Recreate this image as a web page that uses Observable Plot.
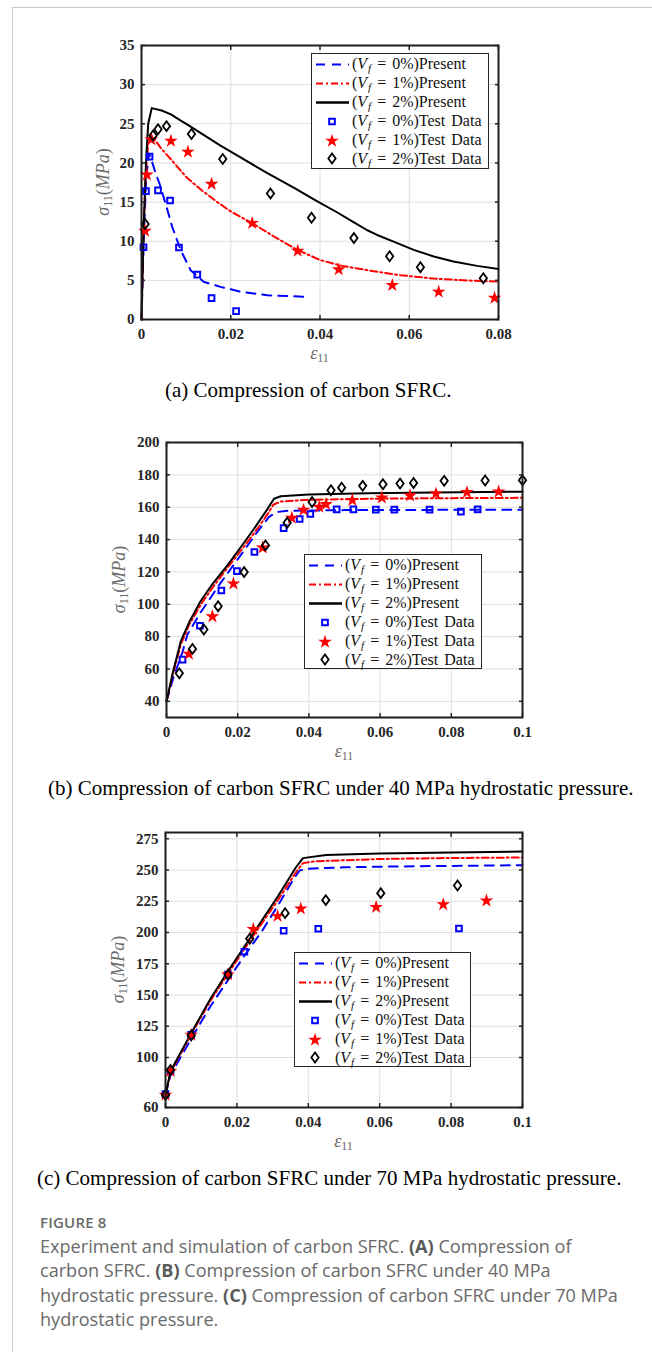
<!DOCTYPE html>
<html>
<head>
<meta charset="utf-8">
<script src="https://cdn.jsdelivr.net/npm/d3@7"></script>
<script src="https://cdn.jsdelivr.net/npm/@observablehq/plot@0.6"></script>
<style>
  body { margin: 0; background: #fff; }
  #page { position: relative; width: 652px; height: 1352px; overflow: hidden; background: #fff; }
  #frame { position: absolute; left: 12px; top: 7px; right: -4px; bottom: -4px;
           border-left: 1px solid #c9c9c9; border-top: 1px solid #c9c9c9; }
  .panel { position: absolute; left: 0; }
  .legend { position: absolute; box-sizing: border-box; background: #fff; border: 1.5px solid #262626;
            font-family: "Liberation Serif", "Times New Roman", serif; font-size: 16px; color: #111;
            padding-top: 1px; word-spacing: 2px; }
  .legend .row { display: flex; align-items: center; height: 18.9px; white-space: nowrap; }
  .legend .row svg { flex: none; }
  .legend i { font-style: italic; }
  .legend sub { font-size: 11px; font-style: italic; vertical-align: -3px; line-height: 0; margin-left: 1px; }
  .sub { position: absolute; font-family: "Liberation Serif", "Times New Roman", serif; font-size: 21px;
         line-height: 24px; white-space: nowrap; color: #000; }
  .caption { position: absolute; left: 40px; top: 1210px; width: 610px;
             font-family: "Open Sans", sans-serif; color: #6a6a6a; }
  .caption .fig { font-size: 15px; line-height: 24px; font-weight: 600; letter-spacing: 0.2px; }
  .caption .body { font-size: 18.1px; line-height: 24.4px; white-space: nowrap; }
  .caption b { font-weight: 700; color: #5a5a5a; }
</style>
</head>
<body>
<div id="page">
  <div id="frame"></div>
</div>
<script>
// ---------- Panel (a): compression, no confinement ----------
const aStrainTicks = [0, 0.02, 0.04, 0.06, 0.08];
const aStressTicks = [0, 5, 10, 15, 20, 25, 30, 35];
const aPresent0 = [[0,0],[0.0005,10],[0.001,17.5],[0.0016,21.2],[0.0021,20.6],[0.003,19],[0.004,17.4],[0.0054,14.8],[0.0069,11.8],[0.0088,8.85],[0.011,6.3],[0.014,4.8],[0.0177,4.17],[0.0222,3.55],[0.0282,3.1],[0.0371,2.9]];
const aPresent1 = [[0,0],[0.0005,12],[0.001,19],[0.0015,22.5],[0.0021,23.6],[0.0045,21.8],[0.007,20.2],[0.01,18.2],[0.0133,16.6],[0.0165,15.2],[0.02,13.8],[0.0248,12.3],[0.0297,10.6],[0.0349,8.9],[0.04,7.6],[0.045,6.85],[0.0506,6.3],[0.058,5.66],[0.0655,5.23],[0.0729,4.98],[0.08,4.85]];
const aPresent2 = [[0,0],[0.0005,12],[0.001,20],[0.0015,25],[0.0023,27.0],[0.0045,26.7],[0.0066,26.2],[0.0088,25.4],[0.0103,24.9],[0.0133,23.8],[0.0177,22.2],[0.0222,20.7],[0.0282,18.7],[0.0342,16.8],[0.0394,15.1],[0.0438,13.7],[0.0476,12.4],[0.0506,11.4],[0.0528,10.8],[0.0565,9.95],[0.061,8.9],[0.0655,8.05],[0.0699,7.4],[0.0752,6.85],[0.08,6.45]];
const aTest0 = [[0.00045,9.23],[0.001,16.4],[0.0018,20.8],[0.0037,16.5],[0.0064,15.2],[0.0084,9.2],[0.0125,5.74],[0.0157,2.72],[0.0212,1.06]];
const aTest1 = [[0.0008,11.3],[0.0012,18.5],[0.0022,23.0],[0.0066,22.8],[0.0104,21.4],[0.0157,17.3],[0.0248,12.3],[0.035,8.76],[0.0442,6.38],[0.0562,4.38],[0.0666,3.53],[0.0791,2.76]];
const aTest2 = [[0.0008,12.2],[0.0026,23.5],[0.0037,24.3],[0.0056,24.7],[0.0112,23.7],[0.0182,20.5],[0.0289,16.1],[0.0381,13.0],[0.0476,10.4],[0.0556,8.08],[0.0625,6.68],[0.0766,5.27]];

// ---------- Panel (b): 40 MPa hydrostatic pressure ----------
const bStrainTicks = [0, 0.02, 0.04, 0.06, 0.08, 0.1];
const bStressTicks = [40, 60, 80, 100, 120, 140, 160, 180, 200];
const bPresent0 = [[0,40],[0.002,55],[0.0045,70.5],[0.0059,81.5],[0.0096,95],[0.0153,113.5],[0.0209,130.5],[0.0256,145],[0.0288,154],[0.031,157],[0.034,157.8],[0.05,158.2],[0.1,158.5]];
const bPresent1 = [[0,40],[0.0017,56],[0.004,75],[0.0064,87.5],[0.01,101],[0.013,110.5],[0.0171,122.5],[0.021,133.5],[0.025,145],[0.0285,156],[0.03,161.5],[0.032,163.5],[0.04,164.6],[0.06,165.3],[0.08,165.6],[0.1,165.8]];
const bPresent2 = [[0,40],[0.0017,57],[0.004,77],[0.0064,89],[0.0096,102],[0.0129,112.5],[0.0171,124],[0.0209,135.4],[0.0246,146.7],[0.0284,159],[0.0302,165.2],[0.0321,166.8],[0.04,167.8],[0.0565,168.7],[0.0752,169.1],[0.1,169.6]];
const bTest0 = [[0.0045,65.8],[0.0094,86.7],[0.0154,108.5],[0.0198,120.5],[0.0247,132.3],[0.0329,147.1],[0.0374,152.7],[0.0404,155.8],[0.0478,158.7],[0.0525,158.7],[0.0588,158.5],[0.064,158.5],[0.0739,158.5],[0.0827,157.3],[0.0874,158.7]];
const bTest1 = [[0.0063,69.3],[0.0129,92.4],[0.0188,112.7],[0.027,135.0],[0.0352,153.3],[0.0385,158.3],[0.0429,160.1],[0.0448,161.8],[0.0522,164.3],[0.0605,165.9],[0.0684,167.2],[0.0757,168.4],[0.0844,169.2],[0.0933,169.6]];
const bTest2 = [[0.0036,57.3],[0.0073,72.4],[0.0105,84.4],[0.0145,98.8],[0.0218,119.9],[0.0278,136.4],[0.0339,150.4],[0.0409,163.2],[0.0462,170.5],[0.0492,172.1],[0.0551,173.2],[0.0608,174.2],[0.0656,174.6],[0.0694,175.0],[0.078,176.3],[0.0895,176.5],[0.1,176.7]];

// ---------- Panel (c): 70 MPa hydrostatic pressure ----------
const cStrainTicks = [0, 0.02, 0.04, 0.06, 0.08, 0.1];
const cStressTicks = [60, 100, 125, 150, 175, 200, 225, 250, 275];
const cPresent0 = [[0,70],[0.0014,86],[0.007,114],[0.0126,141],[0.0175,162],[0.022,181],[0.027,201],[0.032,224],[0.0355,241],[0.0375,249.5],[0.04,251],[0.05,252.2],[0.07,253],[0.1,253.8]];
const cPresent1 = [[0,70],[0.0014,88],[0.007,117.5],[0.0126,145.5],[0.0175,167],[0.0245,197],[0.0315,226],[0.0365,248],[0.0385,255.5],[0.042,257],[0.06,258.8],[0.08,259.6],[0.1,260]];
const cPresent2 = [[0,70],[0.0014,89],[0.007,118.5],[0.0126,147],[0.0175,169],[0.0245,199],[0.0315,229],[0.0365,252],[0.0385,259.5],[0.045,262],[0.06,263.2],[0.08,264],[0.1,264.8]];
const cTest0 = [[0,70.7],[0.0014,88.8],[0.0072,118.1],[0.0175,166.4],[0.0221,184.6],[0.0331,201.4],[0.0428,203.0],[0.0822,203.2]];
const cTest1 = [[0,70.1],[0.0014,89.1],[0.0072,118.1],[0.0175,166.4],[0.0246,202.7],[0.0314,213.1],[0.0379,219],[0.059,220.3],[0.0778,222.4],[0.0899,225.4]];
const cTest2 = [[0,70.1],[0.0014,90.1],[0.0072,117.6],[0.0175,166.2],[0.0236,195],[0.0335,215.5],[0.0449,225.9],[0.0603,231.5],[0.0818,237.6]];

const seriesNames = ["0%", "1%", "2%"];
const subcaptions = [
  "(a) Compression of carbon SFRC.",
  "(b) Compression of carbon SFRC under 40 MPa hydrostatic pressure.",
  "(c) Compression of carbon SFRC under 70 MPa hydrostatic pressure."
];

const BLUE = "#0000ff", RED = "#ff0000", BLACK = "#000000";
const DASH0 = "9,7", DASH1 = "7,3,2,3";
const SERIF = '"Liberation Serif", "Times New Roman", serif';
const R_SQUARE = 3.2, R_STAR = 4.3, R_DIAMOND = 3.3;

// rhombus marker, a little taller than wide
const rhombus = {
  draw(context, size) {
    const h = Math.sqrt(size / Math.PI) * 1.5, w = h * 0.74;
    context.moveTo(0, -h);
    context.lineTo(w, 0);
    context.lineTo(0, h);
    context.lineTo(-w, 0);
    context.closePath();
  }
};

const page = document.getElementById("page");

function toRows(pairs) { return pairs.map(([x, y]) => ({x, y})); }

function panel(cfg) {
  const fmt = d => d === 0 ? "0" : String(d);
  const tickText = {fontSize: 15, fontWeight: "bold", fontFamily: SERIF, fill: "#262626"};
  const chart = Plot.plot({
    width: 652,
    height: cfg.height,
    marginTop: cfg.mt, marginBottom: cfg.mb, marginLeft: cfg.ml, marginRight: cfg.mr,
    style: {fontFamily: SERIF, background: "transparent", overflow: "visible"},
    x: {domain: cfg.xDomain},
    y: {domain: cfg.yDomain},
    marks: [
      Plot.gridX(cfg.xTicks, {stroke: "#dedede", strokeOpacity: 1, strokeWidth: 1}),
      Plot.gridY(cfg.yTicks, {stroke: "#dedede", strokeOpacity: 1, strokeWidth: 1}),
      Plot.line(toRows(cfg.present[0]), {x: "x", y: "y", stroke: BLUE, strokeWidth: 2, strokeDasharray: DASH0}),
      Plot.line(toRows(cfg.present[1]), {x: "x", y: "y", stroke: RED, strokeWidth: 2, strokeDasharray: DASH1}),
      Plot.line(toRows(cfg.present[2]), {x: "x", y: "y", stroke: BLACK, strokeWidth: 2}),
      Plot.dot(toRows(cfg.test[0]), {x: "x", y: "y", symbol: "square", r: R_SQUARE, stroke: BLUE, strokeWidth: 2, fill: "none"}),
      Plot.dot(toRows(cfg.test[1]), {x: "x", y: "y", symbol: "star", r: R_STAR, fill: RED, stroke: "none"}),
      Plot.dot(toRows(cfg.test[2]), {x: "x", y: "y", symbol: rhombus, r: R_DIAMOND, stroke: BLACK, strokeWidth: 1.8, fill: "none"}),
      // tick labels
      Plot.axisX(cfg.xTicks, {anchor: "bottom", tickSize: 0, tickPadding: 9, tickFormat: fmt, label: null, ...tickText}),
      Plot.axisY(cfg.yTicks, {anchor: "left", tickSize: 0, tickPadding: 7, tickFormat: fmt, label: null, ...tickText}),
      // inward ticks on all four sides
      Plot.axisX(cfg.xTicks, {anchor: "bottom", tickSize: -4, tickFormat: () => "", label: null, stroke: "#262626", strokeWidth: 1.5}),
      Plot.axisX(cfg.xTicks, {anchor: "top", tickSize: -4, tickFormat: () => "", label: null, stroke: "#262626", strokeWidth: 1.5}),
      Plot.axisY(cfg.yTicks, {anchor: "left", tickSize: -4, tickFormat: () => "", label: null, stroke: "#262626", strokeWidth: 1.5}),
      Plot.axisY(cfg.yTicks, {anchor: "right", tickSize: -4, tickFormat: () => "", label: null, stroke: "#262626", strokeWidth: 1.5}),
      Plot.frame({stroke: "#1e1e1e", strokeWidth: 2})
    ]
  });
  chart.classList.add("panel");
  chart.style.top = cfg.top + "px";
  page.appendChild(chart);

  const sx = chart.scale("x"), sy = chart.scale("y");
  const svg = d3.select(chart);
  const xMid = (sx.range[0] + sx.range[1]) / 2;
  const yMid = (sy.range[0] + sy.range[1]) / 2;

  // strain label: ε11
  const xl = svg.append("text")
    .attr("x", xMid).attr("y", cfg.xLabelY)
    .attr("text-anchor", "middle").attr("dominant-baseline", "middle")
    .attr("font-family", SERIF).attr("font-size", 18).attr("fill", "#6a6a6a");
  xl.append("tspan").attr("font-style", "italic").text("ε");
  xl.append("tspan").attr("font-size", 12).attr("dy", 4).text("11");

  // stress label: σ11(MPa)
  const yl = svg.append("text")
    .attr("transform", `translate(${cfg.yLabelX},${yMid}) rotate(-90)`)
    .attr("text-anchor", "middle").attr("dominant-baseline", "middle")
    .attr("font-family", SERIF).attr("font-size", 18).attr("fill", "#6a6a6a");
  yl.append("tspan").attr("font-style", "italic").text("σ");
  yl.append("tspan").attr("font-size", 12).attr("dy", 4).text("11");
  yl.append("tspan").attr("dy", -4).text("(");
  yl.append("tspan").attr("font-style", "italic").text("MPa");
  yl.append("tspan").text(")");

  // legend box
  const lg = document.createElement("div");
  lg.className = "legend";
  Object.assign(lg.style, {left: cfg.legend.left + "px", top: cfg.legend.top + "px",
    width: cfg.legend.width + "px", height: cfg.legend.height + "px"});
  const samples = [
    `<line x1="4" x2="37" y1="9.5" y2="9.5" stroke="${BLUE}" stroke-width="2" stroke-dasharray="${DASH0}"/>`,
    `<line x1="4" x2="37" y1="9.5" y2="9.5" stroke="${RED}" stroke-width="2" stroke-dasharray="${DASH1}"/>`,
    `<line x1="4" x2="37" y1="9.5" y2="9.5" stroke="${BLACK}" stroke-width="2.6"/>`,
    `<path transform="translate(20,9.5)" d="${d3.symbol(d3.symbolSquare, Math.PI * R_SQUARE * R_SQUARE)()}" fill="none" stroke="${BLUE}" stroke-width="2"/>`,
    `<path transform="translate(20,10)" d="${d3.symbol(d3.symbolStar, Math.PI * R_STAR * R_STAR)()}" fill="${RED}"/>`,
    `<path transform="translate(20,9.5)" d="${d3.symbol(rhombus, Math.PI * R_DIAMOND * R_DIAMOND)()}" fill="none" stroke="${BLACK}" stroke-width="1.8"/>`
  ];
  const kinds = ["Present", "Present", "Present", "Test Data", "Test Data", "Test Data"];
  lg.innerHTML = kinds.map((k, i) =>
    `<div class="row"><svg width="40" height="19">${samples[i]}</svg>` +
    `<span>(<i>V</i><sub>f</sub> = ${seriesNames[i % 3]})${k}</span></div>`).join("");
  page.appendChild(lg);

  // sub-caption
  const sc = document.createElement("div");
  sc.className = "sub";
  sc.textContent = cfg.caption;
  sc.style.top = cfg.captionTop + "px";
  sc.style.left = cfg.captionLeft + "px";
  page.appendChild(sc);
}

panel({
  top: 0, height: 370, mt: 45, mb: 51, ml: 141, mr: 154,
  xDomain: [0, 0.08], yDomain: [0, 35], xTicks: aStrainTicks, yTicks: aStressTicks,
  present: [aPresent0, aPresent1, aPresent2], test: [aTest0, aTest1, aTest2],
  xLabelY: 355, yLabelX: 105,
  legend: {left: 311, top: 53, width: 178, height: 116},
  caption: subcaptions[0], captionTop: 378, captionLeft: 165
});
panel({
  top: 420, height: 350, mt: 22, mb: 53, ml: 166, mr: 130,
  xDomain: [0, 0.1], yDomain: [30, 200], xTicks: bStrainTicks, yTicks: bStressTicks,
  present: [bPresent0, bPresent1, bPresent2], test: [bTest0, bTest1, bTest2],
  xLabelY: 333, yLabelX: 121,
  legend: {left: 304, top: 554, width: 178, height: 115},
  caption: subcaptions[1], captionTop: 776, captionLeft: 48
});
panel({
  top: 810, height: 350, mt: 22, mb: 53, ml: 165, mr: 130,
  xDomain: [0, 0.1], yDomain: [60, 280], xTicks: cStrainTicks, yTicks: cStressTicks,
  present: [cPresent0, cPresent1, cPresent2], test: [cTest0, cTest1, cTest2],
  xLabelY: 333, yLabelX: 120,
  legend: {left: 294, top: 952, width: 177, height: 115},
  caption: subcaptions[2], captionTop: 1166, captionLeft: 37
});

// figure caption, wrapped as printed
const captionLines = [
  "Experiment and simulation of carbon SFRC. <b>(A)</b> Compression of",
  "carbon SFRC. <b>(B)</b> Compression of carbon SFRC under 40 MPa",
  "hydrostatic pressure. <b>(C)</b> Compression of carbon SFRC under 70 MPa",
  "hydrostatic pressure."
];
const cap = document.createElement("div");
cap.className = "caption";
cap.innerHTML = `<div class="fig">FIGURE 8</div><div class="body">${captionLines.join("<br>")}</div>`;
page.appendChild(cap);
</script>
</body>
</html>
